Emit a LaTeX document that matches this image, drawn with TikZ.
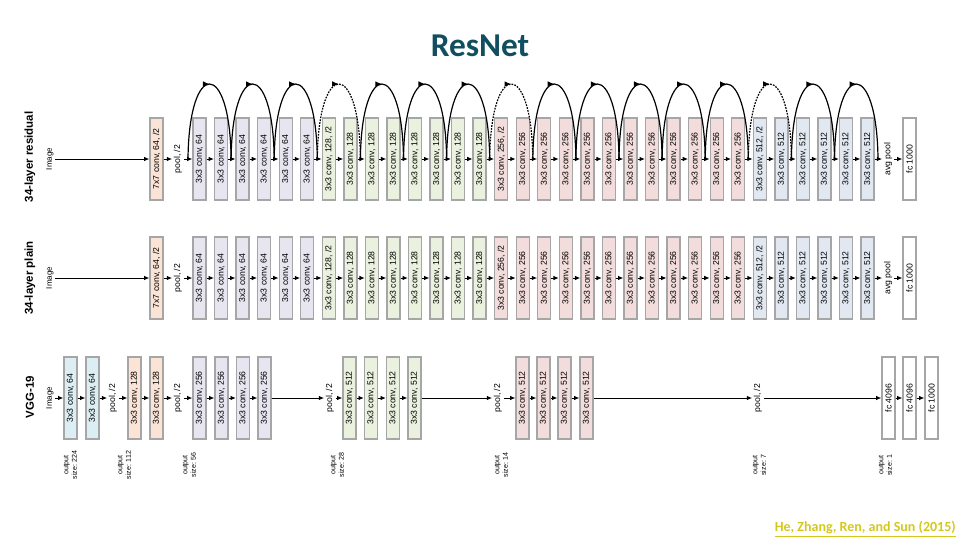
\documentclass[tikz,border=0pt]{standalone}
\usepackage{fontspec}
\setmainfont{Liberation Sans}
\newfontfamily\calibri{Carlito}
\usetikzlibrary{arrows.meta,decorations.markings}
\definecolor{cPeach}{HTML}{FBE4D5}
\definecolor{cLav}{HTML}{E6E5F0}
\definecolor{cGreen}{HTML}{EAF1DE}
\definecolor{cPink}{HTML}{F2DDDC}
\definecolor{cBlue}{HTML}{E2E8F1}
\definecolor{cVblue}{HTML}{DBEEF4}
\definecolor{cBorder}{HTML}{A6A6A6}
\definecolor{titleC}{RGB}{16,78,96}
\definecolor{citeC}{RGB}{212,200,28}
\begin{document}
\begin{tikzpicture}[x=0.75pt,y=-0.75pt,
  layer/.style={draw=cBorder, line width=1pt, minimum width=9.75pt, minimum height=61.5pt, inner sep=0pt, font=\fontsize{6.5}{7}\selectfont},
  lbl/.style={inner sep=1.2pt, font=\fontsize{6.5}{7}\selectfont},
  imglbl/.style={inner sep=1.2pt, font=\fontsize{6}{7}\selectfont},
  arr/.style={-{Latex[length=4pt,width=3.5pt]}, line width=0.7pt},
  skip/.style={line width=0.9pt, decoration={markings, mark=at position 0.5 with {\arrow{Latex[length=5pt,width=4.2pt]}}}, postaction={decorate}},
  skipd/.style={skip, dash pattern=on 1.3pt off 0.9pt},
  rowtitle/.style={font=\fontsize{8.6}{10}\selectfont\bfseries},
  outlbl/.style={inner sep=0pt, font=\fontsize{5.3}{6.3}\selectfont}
]
\useasboundingbox (0,0) rectangle (960,540);

% title and citation
\node[font=\calibri\bfseries\fontsize{25}{30}\selectfont, text=titleC] (title) at (480,46) {ResNet};
\node[font=\calibri\bfseries\fontsize{10.5}{12}\selectfont, text=citeC, anchor=east, inner sep=0pt] (cite) at (956,529) {\underline{He, Zhang, Ren, and Sun (2015)}};

% row titles
\node[rowtitle] (tRes) at (30,157) {\rotatebox{90}{34-layer residual}};
\node[rowtitle] (tPlain) at (30,278) {\rotatebox{90}{34-layer plain}};
\node[rowtitle] (tVgg) at (30,397) {\rotatebox{90}{VGG-19}};

% ---------- residual and plain rows ----------
\node[imglbl] (rImg) at (50,159) {\rotatebox{90}{Image}};
\node[imglbl] (pImg) at (50,278) {\rotatebox{90}{Image}};
\node[layer, fill=cPeach] (rA) at (156.5,159) {\rotatebox{90}{7x7 conv, 64, /2}};
\node[layer, fill=cPeach] (pA) at (156.5,278) {\rotatebox{90}{7x7 conv, 64, /2}};
\node[lbl] (rPool) at (178,159) {\rotatebox{90}{pool, /2}};
\node[lbl] (pPool) at (178,278) {\rotatebox{90}{pool, /2}};

\foreach \i in {0,...,31}{
  \pgfmathsetmacro\xx{199.5+21.55*\i}
  \ifnum\i<6 \def\lyrcol{cLav}\def\lyrtxt{3x3 conv, 64}\else
  \ifnum\i<14 \def\lyrcol{cGreen}\def\lyrtxt{3x3 conv, 128}\else
  \ifnum\i<26 \def\lyrcol{cPink}\def\lyrtxt{3x3 conv, 256}\else
  \def\lyrcol{cBlue}\def\lyrtxt{3x3 conv, 512}\fi\fi\fi
  \ifnum\i=6 \def\lyrtxt{3x3 conv, 128, /2}\fi
  \ifnum\i=14 \def\lyrtxt{3x3 conv, 256, /2}\fi
  \ifnum\i=26 \def\lyrtxt{3x3 conv, 512, /2}\fi
  \node[layer, fill=\lyrcol] (r\i) at (\xx,159) {\rotatebox{90}{\lyrtxt}};
  \node[layer, fill=\lyrcol] (p\i) at (\xx,278) {\rotatebox{90}{\lyrtxt}};
  \coordinate (rj\i) at (\xx-11.5,159);
}
\coordinate (rj32) at (878,159);

\node[lbl] (rAvg) at (888,159) {\rotatebox{90}{avg pool}};
\node[lbl] (pAvg) at (888,278) {\rotatebox{90}{avg pool}};
\node[layer, fill=white] (rFc) at (909.5,159) {\rotatebox{90}{fc 1000}};
\node[layer, fill=white] (pFc) at (909.5,278) {\rotatebox{90}{fc 1000}};

\foreach \r in {r,p}{
  \draw[arr] (\r Img.east) -- (\r A.west);
  \draw[arr] (\r A.east) -- (\r Pool.west);
  \draw[arr] (\r Pool.east) -- (\r 0.west);
  \draw[arr] (\r 31.east) -- (\r Avg.west);
  \draw[arr] (\r Avg.east) -- (\r Fc.west);
}
\foreach \i [evaluate=\i as \j using int(\i+1)] in {0,...,30}{
  \draw[arr] (r\i.east) -- (r\j.west);
  \draw[arr] (p\i.east) -- (p\j.west);
}

% shortcut connections
\foreach \a/\b/\s in {0/2/skip,2/4/skip,4/6/skip,6/8/skipd,8/10/skip,10/12/skip,12/14/skip,
  14/16/skipd,16/18/skip,18/20/skip,20/22/skip,22/24/skip,24/26/skip,
  26/28/skipd,28/30/skip,30/32/skip}{
  \draw[\s] (rj\a) .. controls +(1,-100) and +(-1,-100) .. (rj\b);
}

% ---------- VGG-19 row ----------
\node[imglbl] (vImg) at (50,398) {\rotatebox{90}{Image}};
\node[layer, fill=cVblue] (v1) at (70.5,398) {\rotatebox{90}{3x3 conv, 64}};
\node[layer, fill=cVblue] (v2) at (92.5,398) {\rotatebox{90}{3x3 conv, 64}};
\node[lbl] (vP1) at (113,398) {\rotatebox{90}{pool, /2}};
\node[layer, fill=cPeach] (v3) at (134.5,398) {\rotatebox{90}{3x3 conv, 128}};
\node[layer, fill=cPeach] (v4) at (156.5,398) {\rotatebox{90}{3x3 conv, 128}};
\node[lbl] (vP2) at (178,398) {\rotatebox{90}{pool, /2}};
\node[layer, fill=cLav] (v5) at (199.5,398) {\rotatebox{90}{3x3 conv, 256}};
\node[layer, fill=cLav] (v6) at (221.5,398) {\rotatebox{90}{3x3 conv, 256}};
\node[layer, fill=cLav] (v7) at (243,398) {\rotatebox{90}{3x3 conv, 256}};
\node[layer, fill=cLav] (v8) at (264.5,398) {\rotatebox{90}{3x3 conv, 256}};
\node[lbl] (vP3) at (330,398) {\rotatebox{90}{pool, /2}};
\node[layer, fill=cGreen] (v9) at (349.5,398) {\rotatebox{90}{3x3 conv, 512}};
\node[layer, fill=cGreen] (v10) at (371,398) {\rotatebox{90}{3x3 conv, 512}};
\node[layer, fill=cGreen] (v11) at (393,398) {\rotatebox{90}{3x3 conv, 512}};
\node[layer, fill=cGreen] (v12) at (414.5,398) {\rotatebox{90}{3x3 conv, 512}};
\node[lbl] (vP4) at (498,398) {\rotatebox{90}{pool, /2}};
\node[layer, fill=cPink] (v13) at (522.5,398) {\rotatebox{90}{3x3 conv, 512}};
\node[layer, fill=cPink] (v14) at (543.5,398) {\rotatebox{90}{3x3 conv, 512}};
\node[layer, fill=cPink] (v15) at (564.5,398) {\rotatebox{90}{3x3 conv, 512}};
\node[layer, fill=cPink] (v16) at (586.5,398) {\rotatebox{90}{3x3 conv, 512}};
\node[lbl] (vP5) at (758,398) {\rotatebox{90}{pool, /2}};
\node[layer, fill=white] (v17) at (888.5,398) {\rotatebox{90}{fc 4096}};
\node[layer, fill=white] (v18) at (909.5,398) {\rotatebox{90}{fc 4096}};
\node[layer, fill=white] (v19) at (931.5,398) {\rotatebox{90}{fc 1000}};

\draw[arr] (vImg.east) -- (v1.west);
\draw[arr] (v1.east) -- (v2.west);
\draw[arr] (v2.east) -- (vP1.west);
\draw[arr] (vP1.east) -- (v3.west);
\draw[arr] (v3.east) -- (v4.west);
\draw[arr] (v4.east) -- (vP2.west);
\draw[arr] (vP2.east) -- (v5.west);
\draw[arr] (v5.east) -- (v6.west);
\draw[arr] (v6.east) -- (v7.west);
\draw[arr] (v7.east) -- (v8.west);
\draw[arr] (v8.east) -- (vP3.west);
\draw[arr] (vP3.east) -- (v9.west);
\draw[arr] (v9.east) -- (v10.west);
\draw[arr] (v10.east) -- (v11.west);
\draw[arr] (v11.east) -- (v12.west);
\draw[arr] (v12.east) -- (vP4.west);
\draw[arr] (vP4.east) -- (v13.west);
\draw[arr] (v13.east) -- (v14.west);
\draw[arr] (v14.east) -- (v15.west);
\draw[arr] (v15.east) -- (v16.west);
\draw[arr] (v16.east) -- (vP5.west);
\draw[arr] (vP5.east) -- (v17.west);
\draw[arr] (v17.east) -- (v18.west);
\draw[arr] (v18.east) -- (v19.west);

% output size labels
\foreach \x/\s [count=\n] in {71/224,125/112,190/56,338/28,502/14,760/7,886/1}{
  \node[outlbl] (out\n) at (\x,465) {\rotatebox{90}{\begin{tabular}{@{}c@{}}output\\size: \s\end{tabular}}};
}
\end{tikzpicture}
\end{document}
